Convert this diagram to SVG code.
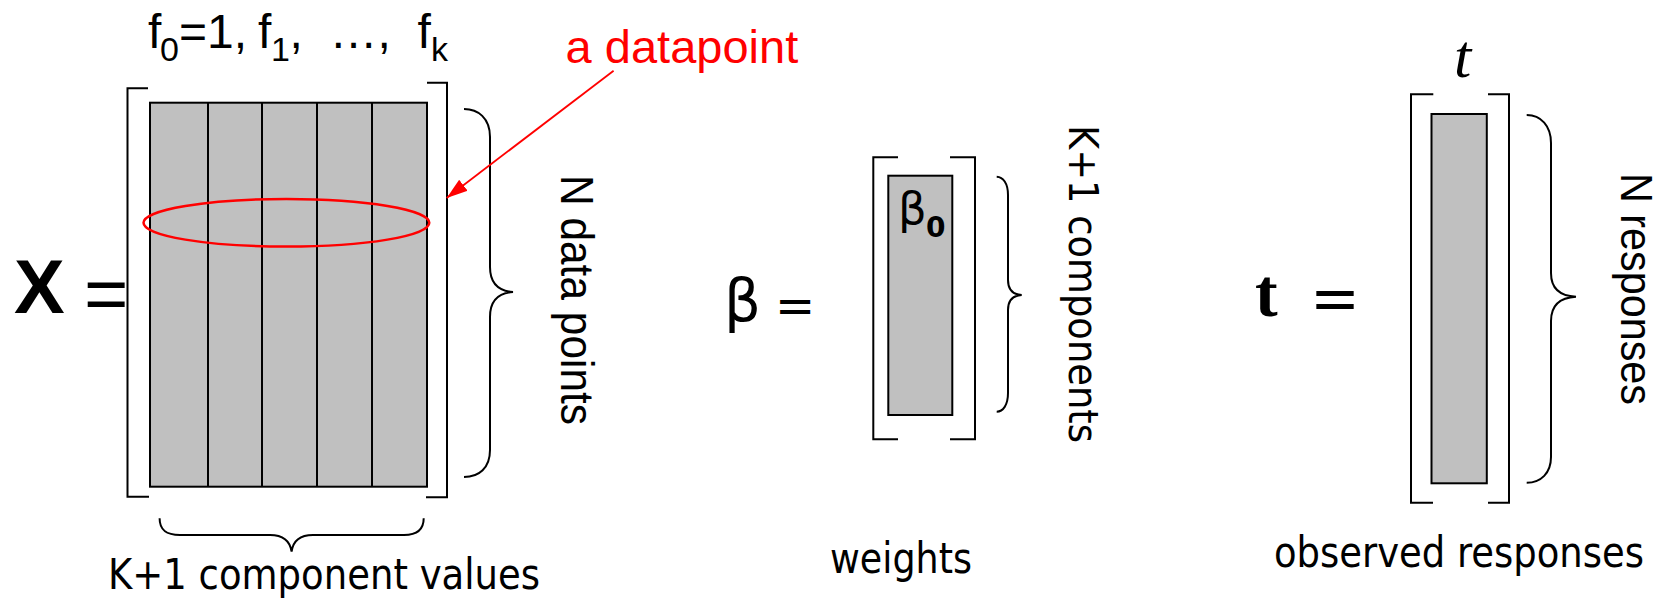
<svg xmlns="http://www.w3.org/2000/svg" width="1659" height="598" viewBox="0 0 1659 598">
<style>
.cell{fill:#C0C0C0;stroke:#000;stroke-width:2}
.ln{fill:none;stroke:#000;stroke-width:2}
.br{fill:none;stroke:#000;stroke-width:2}
.brace{fill:none;stroke:#000;stroke-width:2}
.arial{font-family:"Liberation Sans",Arial,sans-serif;fill:#000}
.taho{font-family:"DejaVu Sans",Tahoma,sans-serif;fill:#000}
.serif{font-family:"Liberation Serif","Times New Roman",serif;fill:#000}
.red{fill:#FF0000}
</style>
<defs>
<marker id="arrowRed" viewBox="0 0 22 16" markerWidth="22" markerHeight="16" refX="21" refY="8" orient="auto" markerUnits="userSpaceOnUse">
<path d="M0,1 L21,8 L0,15 z" fill="#FF0000"/>
</marker>
</defs>
<rect width="1659" height="598" fill="#FFFFFF"/>

<g id="matrixX">
<text class="arial" x="14" y="313" font-size="76" font-weight="bold">X</text>
<text class="arial" x="84" y="320" font-size="76">=</text>
<text class="arial" font-size="48">
<tspan x="148" y="48">f</tspan><tspan x="160" y="61" font-size="34">0</tspan><tspan x="179" y="48">=1,</tspan><tspan x="258" y="48">f</tspan><tspan x="271" y="61" font-size="34">1</tspan><tspan x="289.6" y="48">,</tspan><tspan x="329.6" y="48">…,</tspan><tspan x="417.6" y="48">f</tspan><tspan x="430.9" y="61" font-size="34">k</tspan>
</text>
<rect class="cell" x="150" y="102.7" width="277" height="384"/>
<path class="ln" d="M208,102.7V486.7M262,102.7V486.7M317,102.7V486.7M372,102.7V486.7"/>
<path class="br" d="M148,88.3H127.5V496.7H149"/>
<path class="br" d="M427,82.7H447V497.3H426"/>
<path class="brace" d="M464,109 C478,109 490,118 490,137 L490,267 C490,284 499,291 513,292 C499,293 490,300 490,317 L490,450 C490,468 479,477 464,477"/>
<text class="arial" font-size="46" transform="translate(561,175) rotate(90)" textLength="250" lengthAdjust="spacingAndGlyphs">N data points</text>
<path class="brace" d="M159.6,518.3 C159.6,530 166,535 180,535 L270,535 C283,535 290,541 291.6,551.7 C293,541 300,535 313,535 L404,535 C417,535 423.7,530 423.7,518.3"/>
<text class="taho" x="108" y="589" font-size="42" textLength="432" lengthAdjust="spacingAndGlyphs">K+1 component values</text>
</g>

<g id="datapoint">
<ellipse cx="286.4" cy="222.8" rx="142.9" ry="23.8" fill="none" stroke="#FF0000" stroke-width="2.5"/>
<text class="arial red" x="565.6" y="63.3" font-size="47">a datapoint</text>
</g>

<g id="vectorBeta">
<text class="taho" x="724" y="321" font-size="58">β</text>
<text class="taho" x="775" y="322" font-size="48">=</text>
<rect class="cell" x="888.3" y="175.7" width="64" height="239.3"/>
<text class="taho" x="898" y="224" font-size="45">β</text>
<text class="taho" x="926" y="236.7" font-size="28" font-weight="bold">0</text>
<path class="br" d="M898,157.3H873.3V439.3H898"/>
<path class="br" d="M950,157.3H975V439.3H950"/>
<path class="brace" d="M996.7,176.7 C1003,177 1008,183 1008,195 L1008,280 C1008,290 1013,294.5 1021.7,295 C1013,295.5 1008,300 1008,310 L1008,393 C1008,405 1003,411.7 996.7,411.7"/>
<text class="taho" font-size="41" transform="translate(1069,125) rotate(90)" textLength="318" lengthAdjust="spacingAndGlyphs">K+1 components</text>
<text class="taho" x="830" y="573" font-size="42" textLength="142" lengthAdjust="spacingAndGlyphs">weights</text>
</g>

<g id="vectorT">
<text class="serif" x="1255" y="316" font-size="68" font-weight="bold">t</text>
<text x="1310" y="320" font-size="64" font-family="DejaVu Serif, serif" font-weight="300" textLength="50" lengthAdjust="spacingAndGlyphs">=</text>
<text class="serif" x="1454" y="77" font-size="62" font-style="italic">t</text>
<rect class="cell" x="1431.5" y="114" width="55.3" height="369.3"/>
<path class="br" d="M1433.3,94.3H1411V502.7H1433"/>
<path class="br" d="M1488,94.3H1509V502.7H1488"/>
<path class="brace" d="M1526.7,115 C1541,115 1551,126 1551,143 L1551,273 C1551,289 1560,296 1576,296.7 C1560,297.5 1551,305 1551,321 L1551,457 C1551,473 1541,482.7 1526.7,482.7"/>
<text class="arial" font-size="44" transform="translate(1621,173) rotate(90)" textLength="232" lengthAdjust="spacingAndGlyphs">N responses</text>
<text class="taho" x="1274" y="567" font-size="42" textLength="370" lengthAdjust="spacingAndGlyphs">observed responses</text>
</g>

<g id="connectors">
<line x1="613.6" y1="70.7" x2="446.7" y2="198" stroke="#FF0000" stroke-width="1.8" marker-end="url(#arrowRed)"/>
</g>
</svg>
